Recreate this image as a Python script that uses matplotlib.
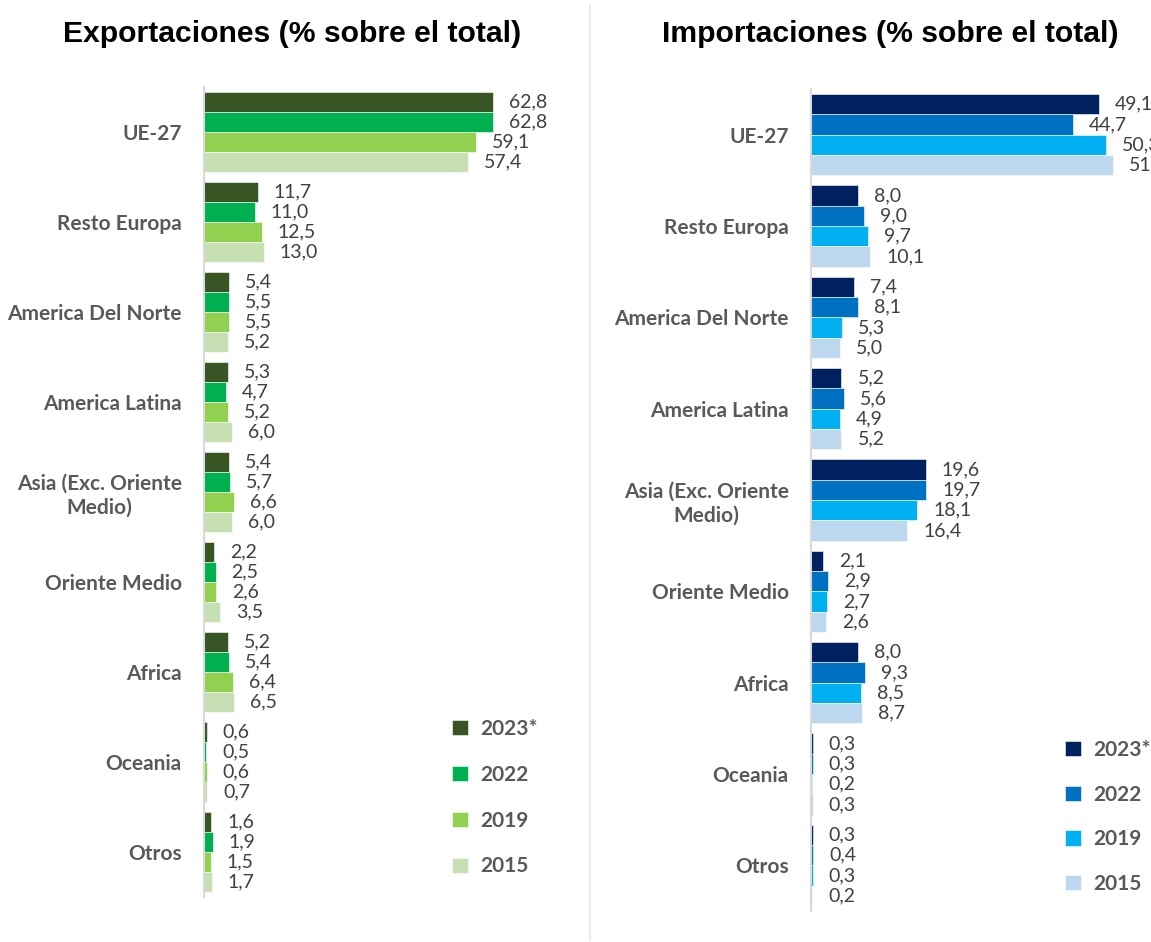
import numpy as np
import matplotlib.pyplot as plt
from matplotlib.lines import Line2D

categories = ["UE-27", "Resto Europa", "America Del Norte", "America Latina",
              "Asia (Exc. Oriente\nMedio)", "Oriente Medio", "Africa", "Oceania", "Otros"]
years = ["2023*", "2022", "2019", "2015"]

exp_2023 = [62.8, 11.7, 5.4, 5.3, 5.4, 2.2, 5.2, 0.6, 1.6]
exp_2022 = [62.8, 11.0, 5.5, 4.7, 5.7, 2.5, 5.4, 0.5, 1.9]
exp_2019 = [59.1, 12.5, 5.5, 5.2, 6.6, 2.6, 6.4, 0.6, 1.5]
exp_2015 = [57.4, 13.0, 5.2, 6.0, 6.0, 3.5, 6.5, 0.7, 1.7]

imp_2023 = [49.1, 8.0, 7.4, 5.2, 19.6, 2.1, 8.0, 0.3, 0.3]
imp_2022 = [44.7, 9.0, 8.1, 5.6, 19.7, 2.9, 9.3, 0.3, 0.4]
imp_2019 = [50.3, 9.7, 5.3, 4.9, 18.1, 2.7, 8.5, 0.2, 0.3]
imp_2015 = [51.5, 10.1, 5.0, 5.2, 16.4, 2.6, 8.7, 0.3, 0.2]

green = ["#375623", "#00B050", "#92D050", "#C6E0B4"]
blue = ["#002060", "#0070C0", "#00B0F0", "#BDD7EE"]

W, H = 1151, 942
fig = plt.figure(figsize=(W / 100, H / 100), dpi=100)
fig.patch.set_facecolor("white")

LABEL_FONT = ["Lato", "DejaVu Sans"]
TITLE_FONT = ["Liberation Sans", "DejaVu Sans"]


def px_axes(x0, x1, y0, y1):
    return fig.add_axes([x0 / W, 1 - y1 / H, (x1 - x0) / W, (y1 - y0) / H])


def draw_panel(ax, series, colors, xmax, title, title_x, leg_anchor, leg_spacing):
    y = np.arange(len(categories))
    h = 0.222
    handles = []
    for i, (vals, c) in enumerate(zip(series, colors)):
        pos = y + (i - 1.5) * h
        b = ax.barh(pos, vals, height=h, color=c, edgecolor="white", linewidth=0.4)
        handles.append(b)
        for p, v in zip(pos, vals):
            ax.annotate(f"{v:.1f}".replace(".", ","), (v, p), xytext=(16, 0),
                        textcoords="offset pixels",
                        va="center", ha="left", fontsize=14, color="#404040",
                        family=LABEL_FONT, annotation_clip=False)
    ax.set_xlim(0, xmax)
    ax.set_ylim(len(categories) - 0.5, -0.5)
    ax.set_yticks(y)
    ax.set_yticklabels(categories, fontsize=15, fontweight="bold", color="#595959",
                       family=LABEL_FONT, multialignment="center")
    ax.tick_params(axis="y", length=0, pad=16)
    ax.set_xticks([])
    for s in ["top", "right", "bottom"]:
        ax.spines[s].set_visible(False)
    ax.spines["left"].set_color("#D9D9D9")
    ax.spines["left"].set_linewidth(1.5)
    fig.text(title_x / W, 1 - 34 / H, title, ha="center", va="center",
             fontsize=21.7, fontweight="bold", family=TITLE_FONT, color="black")
    fig.legend(handles, years, loc="upper left",
               bbox_to_anchor=(leg_anchor[0] / W, 1 - leg_anchor[1] / H),
               frameon=False, handlelength=0.75, handleheight=0.75, handletextpad=0.6,
               labelspacing=leg_spacing, borderaxespad=0, borderpad=0,
               prop={"family": LABEL_FONT, "weight": "bold", "size": 15},
               labelcolor="#595959")


ax1 = px_axes(204, 560, 87, 897)
draw_panel(ax1, [exp_2023, exp_2022, exp_2019, exp_2015], green, 356 / 4.6,
           "Exportaciones (% sobre el total)", 292, (452, 719), 1.24)

ax2 = px_axes(811, 1151, 89, 911)
draw_panel(ax2, [imp_2023, imp_2022, imp_2019, imp_2015], blue, 340 / 5.86,
           "Importaciones (% sobre el total)", 890, (1065, 740), 1.18)

fig.add_artist(Line2D([590 / W, 590 / W], [1 - 5 / H, 1 - 940 / H],
                      color="#E6E6E6", linewidth=1.2))

fig.savefig("out.png", dpi=100)
